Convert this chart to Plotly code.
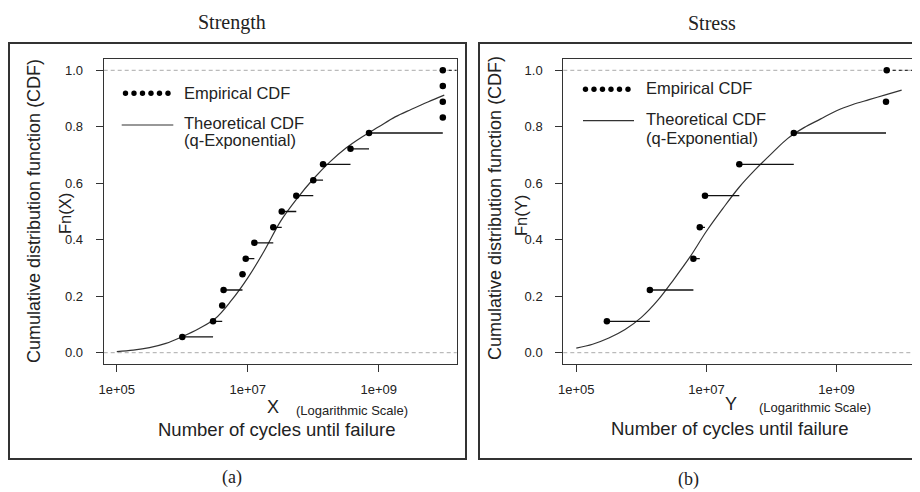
import plotly.graph_objects as go

# The page body has an 8px margin; the figure is sized so it fills the window exactly.
OFF = 8
W, H = 920 - OFF, 492 - OFF

# ---------------- data ----------------
strength_x = [1.0e6, 2.95e6, 4.07e6, 4.27e6, 8.3e6, 9.3e6, 1.26e7, 2.45e7, 3.3e7,
              5.5e7, 1.0e8, 1.41e8, 3.7e8, 7.1e8, 9.5e9, 9.5e9, 9.5e9, 9.5e9]
strength_F = [0.056, 0.111, 0.167, 0.222, 0.278, 0.333, 0.389, 0.444, 0.500,
              0.556, 0.611, 0.667, 0.722, 0.778, 0.833, 0.889, 0.944, 1.000]

stress_x = [2.95e5, 1.35e6, 6.3e6, 7.9e6, 9.5e6, 3.2e7, 2.2e8, 5.75e9, 5.9e9]
stress_F = [0.111, 0.222, 0.333, 0.444, 0.556, 0.667, 0.778, 0.889, 1.000]

curve_x = [1.0e5, 1.78e5, 3.16e5, 5.62e5, 1.0e6, 1.78e6, 3.16e6, 5.62e6, 1.0e7,
           1.78e7, 3.16e7, 5.62e7, 1.0e8, 1.78e8, 3.16e8, 5.62e8, 1.0e9, 1.78e9,
           3.16e9, 5.62e9, 1.0e10]
strength_theory = [0.004, 0.009, 0.018, 0.033, 0.057, 0.085, 0.120, 0.185, 0.265,
                   0.360, 0.465, 0.545, 0.615, 0.675, 0.725, 0.765, 0.800, 0.835,
                   0.862, 0.888, 0.912]
stress_theory = [0.016, 0.030, 0.052, 0.082, 0.125, 0.185, 0.260, 0.340, 0.430,
                 0.510, 0.585, 0.648, 0.705, 0.759, 0.797, 0.827, 0.857, 0.879,
                 0.896, 0.913, 0.930]

x_tickvals = [1e5, 1e7, 1e9]
x_ticktext = ["1e+05", "1e+07", "1e+09"]
y_tickvals = [0.0, 0.2, 0.4, 0.6, 0.8, 1.0]
y_ticktext = ["0.0", "0.2", "0.4", "0.6", "0.8", "1.0"]

x_range_log = [4.80, 10.19]
y_range = [-0.04, 1.04]

SANS = "Liberation Sans, Arial, sans-serif"
SERIF = "Liberation Serif, Times New Roman, serif"
INK = "#222222"


def px(x):
    return (x - OFF) / W


def py(y):
    return 1 - (y - OFF) / H


def steps(xs, fs):
    sx, sy = [], []
    for i in range(len(xs) - 1):
        sx += [xs[i], xs[i + 1], None]
        sy += [fs[i], fs[i], None]
    return sx, sy


fig = go.Figure()

panels = [
    ("x", "y", strength_x, strength_F, strength_theory),
    ("x2", "y2", stress_x, stress_F, stress_theory),
]
x_end = 10 ** x_range_log[1]
for xa, ya, xs, fs, th in panels:
    # theoretical curve
    fig.add_trace(go.Scatter(x=curve_x, y=th, mode="lines", xaxis=xa, yaxis=ya,
                             line=dict(color="#333333", width=1.2, shape="spline"),
                             hoverinfo="skip"))
    # step segments
    sx, sy = steps(xs, fs)
    fig.add_trace(go.Scatter(x=sx, y=sy, mode="lines", xaxis=xa, yaxis=ya,
                             line=dict(color="#111111", width=1.3), hoverinfo="skip"))
    # final segment to the right edge
    fig.add_trace(go.Scatter(x=[xs[-1], x_end], y=[fs[-1], fs[-1]], mode="lines",
                             xaxis=xa, yaxis=ya,
                             line=dict(color="#333333", width=1.2, dash="3px,3px"),
                             hoverinfo="skip"))
    # points
    fig.add_trace(go.Scatter(x=xs, y=fs, mode="markers", xaxis=xa, yaxis=ya,
                             marker=dict(color="#000000", size=6.5), hoverinfo="skip"))

axis_common = dict(type="log", range=x_range_log, tickvals=x_tickvals, ticktext=x_ticktext,
                   showline=True, mirror=True, linecolor="#333333", linewidth=1,
                   ticks="outside", ticklen=7, tickcolor="#333333", showgrid=False,
                   zeroline=False, tickfont=dict(family=SANS, size=13, color=INK),
                   ticklabelstandoff=6, automargin=False)
yaxis_common = dict(range=y_range, tickvals=y_tickvals, ticktext=y_ticktext,
                    showline=True, mirror=True, linecolor="#333333", linewidth=1,
                    ticks="outside", ticklen=7, tickcolor="#333333", showgrid=False,
                    zeroline=False, tickfont=dict(family=SANS, size=13, color=INK),
                    ticklabelstandoff=10, automargin=False)

fig.update_layout(
    width=W, height=H, autosize=False,
    margin=dict(l=0, r=0, t=0, b=0, pad=0),
    paper_bgcolor="white", plot_bgcolor="white",
    showlegend=False,
    xaxis=dict(domain=[px(103.7), px(456.7)], anchor="y", **axis_common),
    yaxis=dict(domain=[py(364), py(59)], anchor="x", **yaxis_common),
    xaxis2=dict(domain=[px(563.3), px(914)], anchor="y2", **axis_common),
    yaxis2=dict(domain=[py(364), py(59)], anchor="x2", **yaxis_common),
)

shapes = []
# dashed reference lines at 0 and 1
for xr, yr in [("x domain", "y"), ("x2 domain", "y2")]:
    for lvl in [0.0, 1.0]:
        shapes.append(dict(type="line", xref=xr, yref=yr, x0=0, x1=1, y0=lvl, y1=lvl,
                           line=dict(color="#aaaaaa", width=1, dash="4px,3px"), layer="below"))
# outer panel boxes
for x0, x1 in [(9, 466), (479, 918)]:
    shapes.append(dict(type="rect", xref="paper", yref="paper",
                       x0=px(x0), x1=px(x1), y0=py(459), y1=py(43),
                       line=dict(color="#333333", width=2)))

# legends (drawn decoration)
legend_specs = [
    dict(dot_x0=125.5, dot_y=93.3, line_x=(121.7, 173.3), line_y=125,
         text_x=181.5, emp_y=93, th_y=123.3, q_y=140),
    dict(dot_x0=585.5, dot_y=89.3, line_x=(583, 634), line_y=120.7,
         text_x=643.5, emp_y=88.5, th_y=119.3, q_y=137.7),
]
annotations = []
for spec in legend_specs:
    for i in range(6):
        cx = spec["dot_x0"] + 8.5 * i
        shapes.append(dict(type="circle", xref="paper", yref="paper",
                           xsizemode="pixel", ysizemode="pixel",
                           xanchor=px(cx), yanchor=py(spec["dot_y"]),
                           x0=-2.7, x1=2.7, y0=-2.7, y1=2.7,
                           fillcolor="#000000", line=dict(color="#000000", width=0)))
    shapes.append(dict(type="line", xref="paper", yref="paper",
                       x0=px(spec["line_x"][0]), x1=px(spec["line_x"][1]),
                       y0=py(spec["line_y"]), y1=py(spec["line_y"]),
                       line=dict(color="#333333", width=1.2)))
    for txt, yy in [("Empirical CDF", spec["emp_y"]), ("Theoretical CDF", spec["th_y"]),
                    ("(q-Exponential)", spec["q_y"])]:
        annotations.append(dict(text=txt, xref="paper", yref="paper",
                                x=px(spec["text_x"]), y=py(yy), xanchor="left", yanchor="middle",
                                showarrow=False, font=dict(family=SANS, size=16.5, color=INK)))

def ann(text, x, y, size, family=SANS, angle=0, xanchor="center"):
    annotations.append(dict(text=text, xref="paper", yref="paper", x=px(x), y=py(y),
                            xanchor=xanchor, yanchor="middle", showarrow=False,
                            textangle=angle, font=dict(family=family, size=size, color=INK)))

# titles and panel labels
ann("Strength", 232, 22, 20, SERIF)
ann("Stress", 712, 23, 20, SERIF)
ann("(a)", 232, 477, 18, SERIF)
ann("(b)", 688, 479, 18, SERIF)

# y titles
ann("Cumulative distribution function (CDF)", 34, 211, 18, angle=-90)
ann("Fn(X)", 65, 214, 16.5, angle=-90)
ann("Cumulative distribution function (CDF)", 495, 208, 18, angle=-90)
ann("Fn(Y)", 521, 216, 16.5, angle=-90)

# x titles
ann("X", 272.7, 406.5, 18)
ann("(Logarithmic Scale)", 351.7, 410.5, 13)
ann("Number of cycles until failure", 277, 429.5, 18.5)
ann("Y", 730.7, 404, 18)
ann("(Logarithmic Scale)", 815, 407.7, 13)
ann("Number of cycles until failure", 730, 428.5, 18.5)

fig.update_layout(shapes=shapes, annotations=annotations)

fig.write_html("out.html")
